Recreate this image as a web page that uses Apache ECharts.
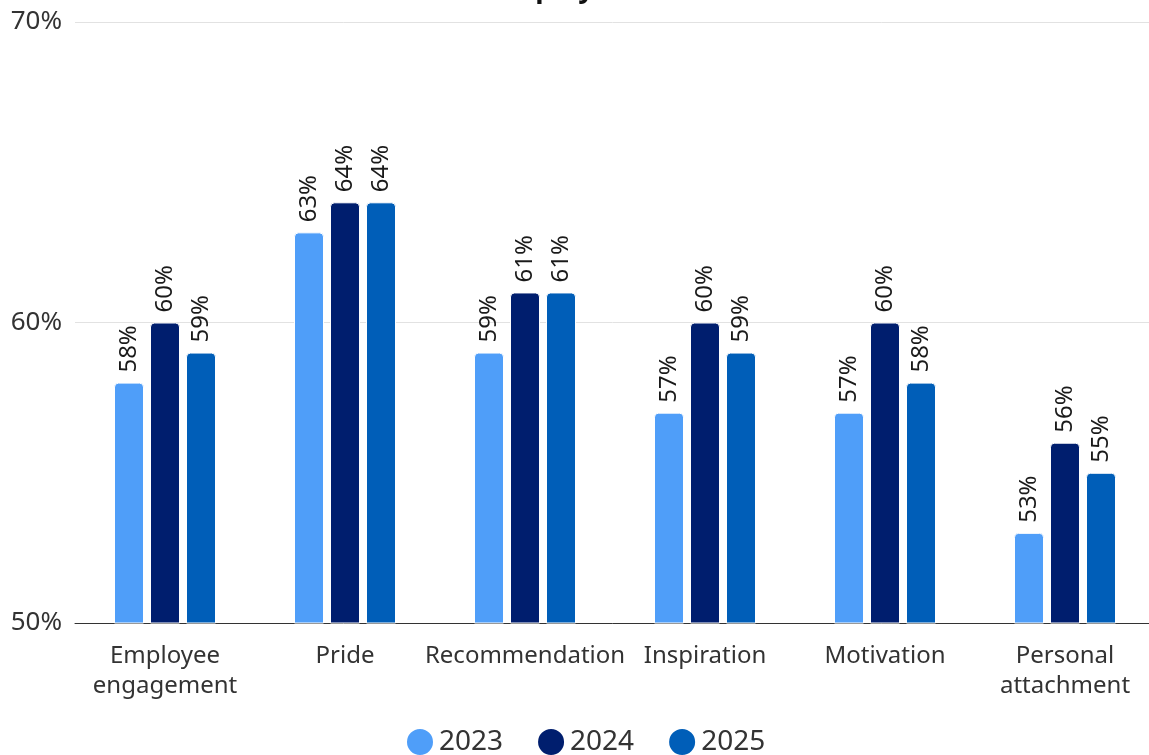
<!DOCTYPE html>
<html>
<head>
<meta charset="utf-8">
<script src="https://cdn.jsdelivr.net/npm/echarts@6/dist/echarts.min.js"></script>
<style>
  html, body { margin: 0; padding: 0; background: #fff; }
  #chart { width: 1149px; height: 755px; }
</style>
</head>
<body>
<div id="chart"></div>
<script>
const categories = ['Employee\nengagement', 'Pride', 'Recommendation', 'Inspiration', 'Motivation', 'Personal\nattachment'];
const seriesNames = ['2023', '2024', '2025'];
const values2023 = [58, 63, 59, 57, 57, 53];
const values2024 = [60, 64, 61, 60, 60, 56];
const values2025 = [59, 64, 61, 59, 58, 55];
const yTicks = [50, 60, 70];

const colors = ['#4f9ef9', '#001e6e', '#005eb8'];
const font = 'Noto Sans';

function barSeries(name, data, color) {
  return {
    name: name,
    type: 'bar',
    data: data,
    barWidth: 30,
    barGap: '20%',
    itemStyle: { color: color, borderRadius: [4, 4, 0, 0], borderColor: '#fff', borderWidth: 1 },
    label: {
      show: true,
      position: 'top',
      rotate: 90,
      align: 'left',
      verticalAlign: 'middle',
      distance: 10,
      formatter: '{c}%',
      fontFamily: font,
      fontSize: 24,
      color: '#1a1a1a'
    }
  };
}

const chart = echarts.init(document.getElementById('chart'), null, { renderer: 'canvas' });
chart.setOption({
  animation: false,
  textStyle: { fontFamily: font },
  title: {
    text: 'Employee',
    left: 555,
    textAlign: 'center',
    top: -30,
    textStyle: { fontFamily: font, fontSize: 28, fontWeight: 'bold', color: '#111' }
  },
  legend: {
    bottom: -7,
    left: 400,
    icon: 'circle',
    itemWidth: 28,
    itemHeight: 28,
    itemGap: 33,
    textStyle: { fontFamily: font, fontSize: 28, color: '#333' },
    data: seriesNames
  },
  grid: {
    left: 75, width: 1080, top: 22, bottom: 132,
    containLabel: false, outerBoundsMode: 'none'
  },
  xAxis: {
    type: 'category',
    data: categories,
    axisLine: { lineStyle: { color: '#333', width: 1 } },
    axisTick: { show: false },
    axisLabel: {
      interval: 0,
      fontFamily: font,
      fontSize: 24,
      color: '#333',
      margin: 18,
      lineHeight: 30
    }
  },
  yAxis: {
    type: 'value',
    min: yTicks[0],
    max: yTicks[yTicks.length - 1],
    interval: yTicks[1] - yTicks[0],
    axisLine: { show: false },
    axisTick: { show: false },
    splitLine: { lineStyle: { color: '#e2e2e2', width: 1 } },
    axisLabel: {
      formatter: '{value}%',
      fontFamily: font,
      fontSize: 26,
      color: '#333',
      margin: 13
    }
  },
  series: [
    barSeries(seriesNames[0], values2023, colors[0]),
    barSeries(seriesNames[1], values2024, colors[1]),
    barSeries(seriesNames[2], values2025, colors[2])
  ]
});
</script>
</body>
</html>
